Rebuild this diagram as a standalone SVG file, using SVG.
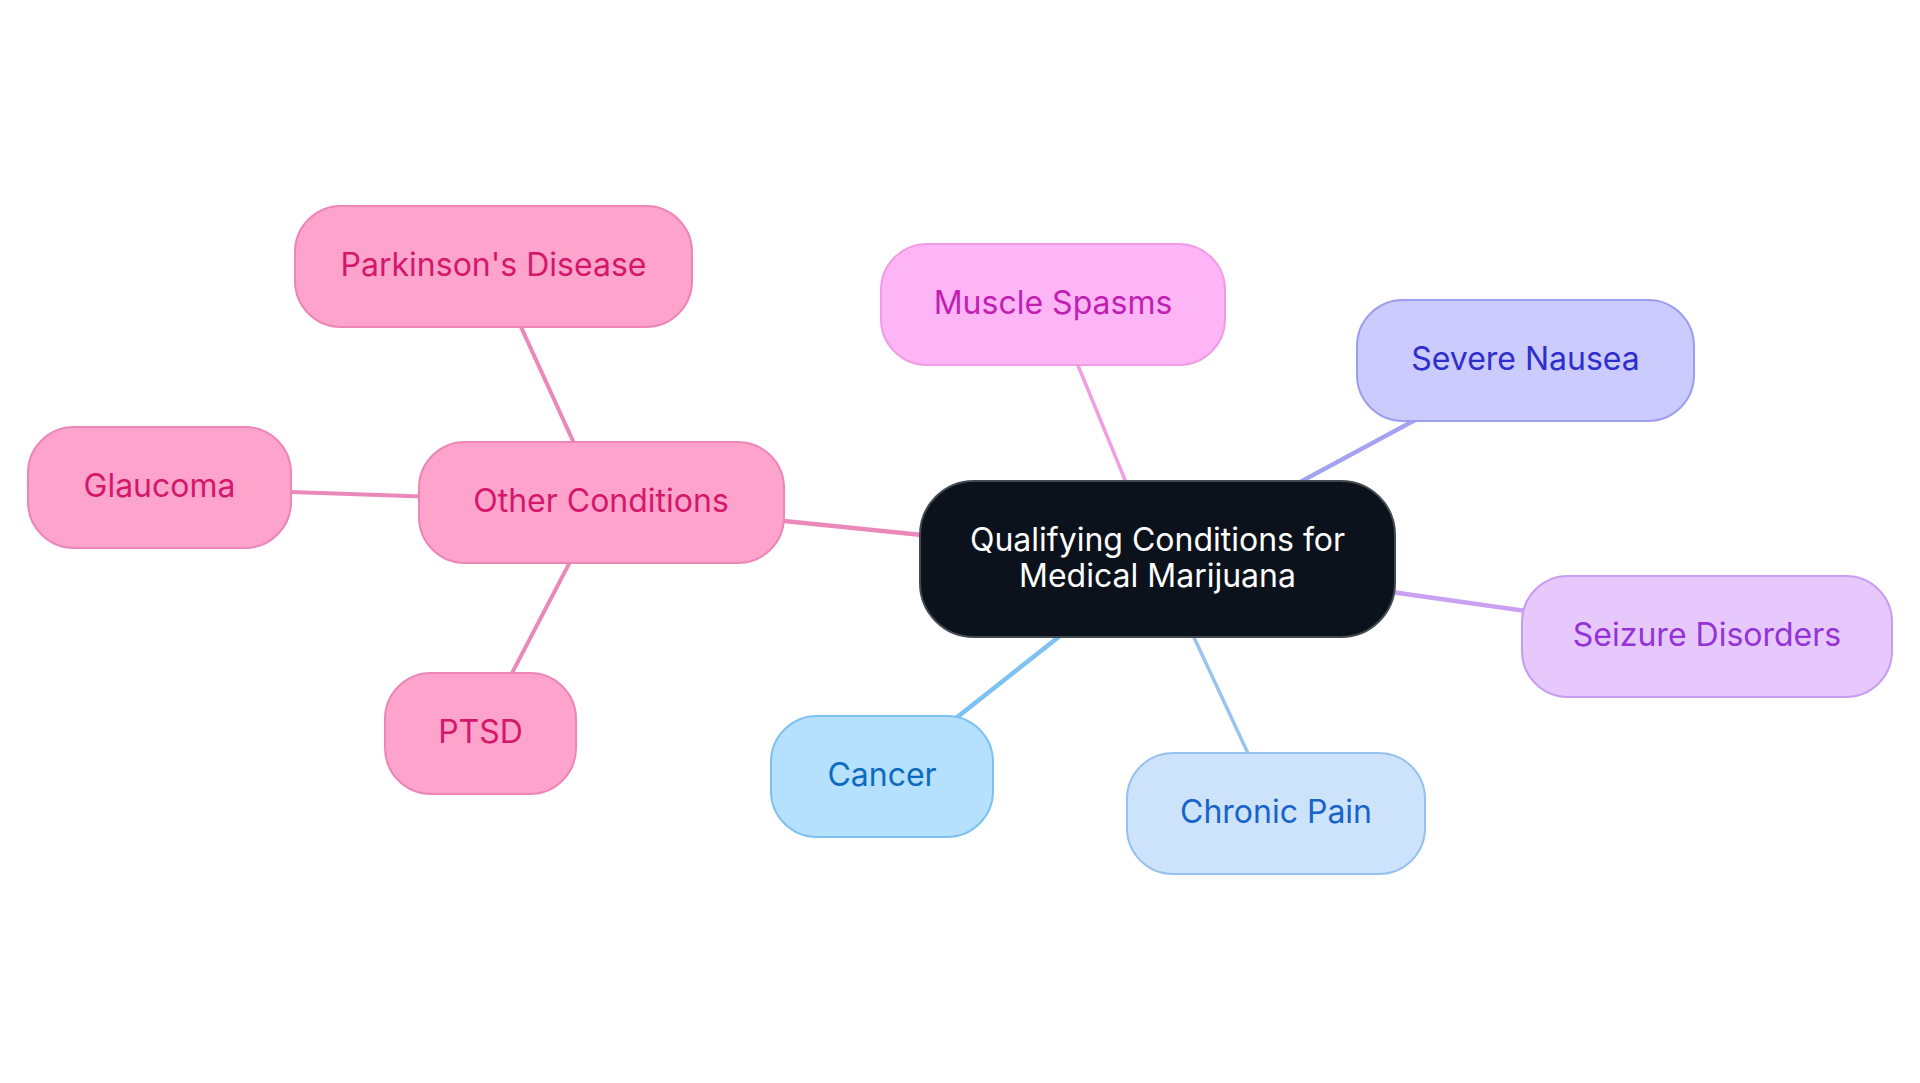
<svg xmlns="http://www.w3.org/2000/svg" width="1920" height="1083" viewBox="0 0 1920 1083">
<style>
.lbl{font-family:"Inter","Open Sans","Liberation Sans",sans-serif;font-size:32px;text-anchor:middle;dominant-baseline:central}
.edge{fill:none;stroke-linecap:round}
.n{stroke-width:2}
</style>
<rect width="1920" height="1083" fill="#ffffff"/>
<g id="connectors">
<line class="edge" x1="1157.5" y1="559" x2="601" y2="502.5" stroke="#ea88ba" stroke-width="4.5"/>
<line class="edge" x1="1157.5" y1="559" x2="1053" y2="304.5" stroke="#f09ee4" stroke-width="3.5"/>
<line class="edge" x1="1157.5" y1="559" x2="1525.5" y2="360.5" stroke="#a3a3f2" stroke-width="4.5"/>
<line class="edge" x1="1157.5" y1="559" x2="1707" y2="636.5" stroke="#c9a0f2" stroke-width="4.5"/>
<line class="edge" x1="1157.5" y1="559" x2="1276" y2="813.5" stroke="#9ac4f0" stroke-width="3.5"/>
<line class="edge" x1="1157.5" y1="559" x2="882" y2="776.5" stroke="#7cc2f2" stroke-width="4.5"/>
<line class="edge" x1="601" y1="502.5" x2="493.5" y2="266.5" stroke="#ea88ba" stroke-width="4"/>
<line class="edge" x1="601" y1="502.5" x2="159.5" y2="487.5" stroke="#ea88ba" stroke-width="4"/>
<line class="edge" x1="601" y1="502.5" x2="480.5" y2="733.5" stroke="#ea88ba" stroke-width="4"/>
</g>
<g id="node-root">
<rect x="920" y="481" width="475" height="156" rx="54" fill="#0c121c" stroke="#444a52" stroke-width="2"/>
<text class="lbl" x="1157.5" y="539" fill="#ffffff">Qualifying Conditions for</text>
<text class="lbl" x="1157.5" y="575" fill="#ffffff">Medical Marijuana</text>
</g>
<g id="node-other">
<rect class="n" x="419" y="442" width="365" height="121" rx="46" fill="#fda3cc" stroke="#ec85b8"/>
<text class="lbl" x="601" y="500" fill="#d5176b">Other Conditions</text>
</g>
<g id="node-parkinsons">
<rect class="n" x="295" y="206" width="397" height="121" rx="46" fill="#fda3cc" stroke="#ec85b8"/>
<text class="lbl" x="493.5" y="264" fill="#d5176b">Parkinson's Disease</text>
</g>
<g id="node-glaucoma">
<rect class="n" x="28" y="427" width="263" height="121" rx="46" fill="#fda3cc" stroke="#ec85b8"/>
<text class="lbl" x="159.5" y="485" fill="#d5176b">Glaucoma</text>
</g>
<g id="node-ptsd">
<rect class="n" x="385" y="673" width="191" height="121" rx="46" fill="#fda3cc" stroke="#ec85b8"/>
<text class="lbl" x="480.5" y="731" fill="#d5176b">PTSD</text>
</g>
<g id="node-muscle">
<rect class="n" x="881" y="244" width="344" height="121" rx="46" fill="#fdb5f5" stroke="#f19ae6"/>
<text class="lbl" x="1053" y="302" fill="#c21eb4">Muscle Spasms</text>
</g>
<g id="node-nausea">
<rect class="n" x="1357" y="300" width="337" height="121" rx="46" fill="#cbcbfd" stroke="#9d9df0"/>
<text class="lbl" x="1525.5" y="358" fill="#2e2ecc">Severe Nausea</text>
</g>
<g id="node-seizure">
<rect class="n" x="1522" y="576" width="370" height="121" rx="46" fill="#e7c8fc" stroke="#c89cf0"/>
<text class="lbl" x="1707" y="634" fill="#9333d8">Seizure Disorders</text>
</g>
<g id="node-chronic">
<rect class="n" x="1127" y="753" width="298" height="121" rx="46" fill="#cde3fb" stroke="#96c0ef"/>
<text class="lbl" x="1276" y="811" fill="#1763c9">Chronic Pain</text>
</g>
<g id="node-cancer">
<rect class="n" x="771" y="716" width="222" height="121" rx="46" fill="#b5e0fe" stroke="#7dc1f0"/>
<text class="lbl" x="882" y="774" fill="#0b6bbf">Cancer</text>
</g>
</svg>
